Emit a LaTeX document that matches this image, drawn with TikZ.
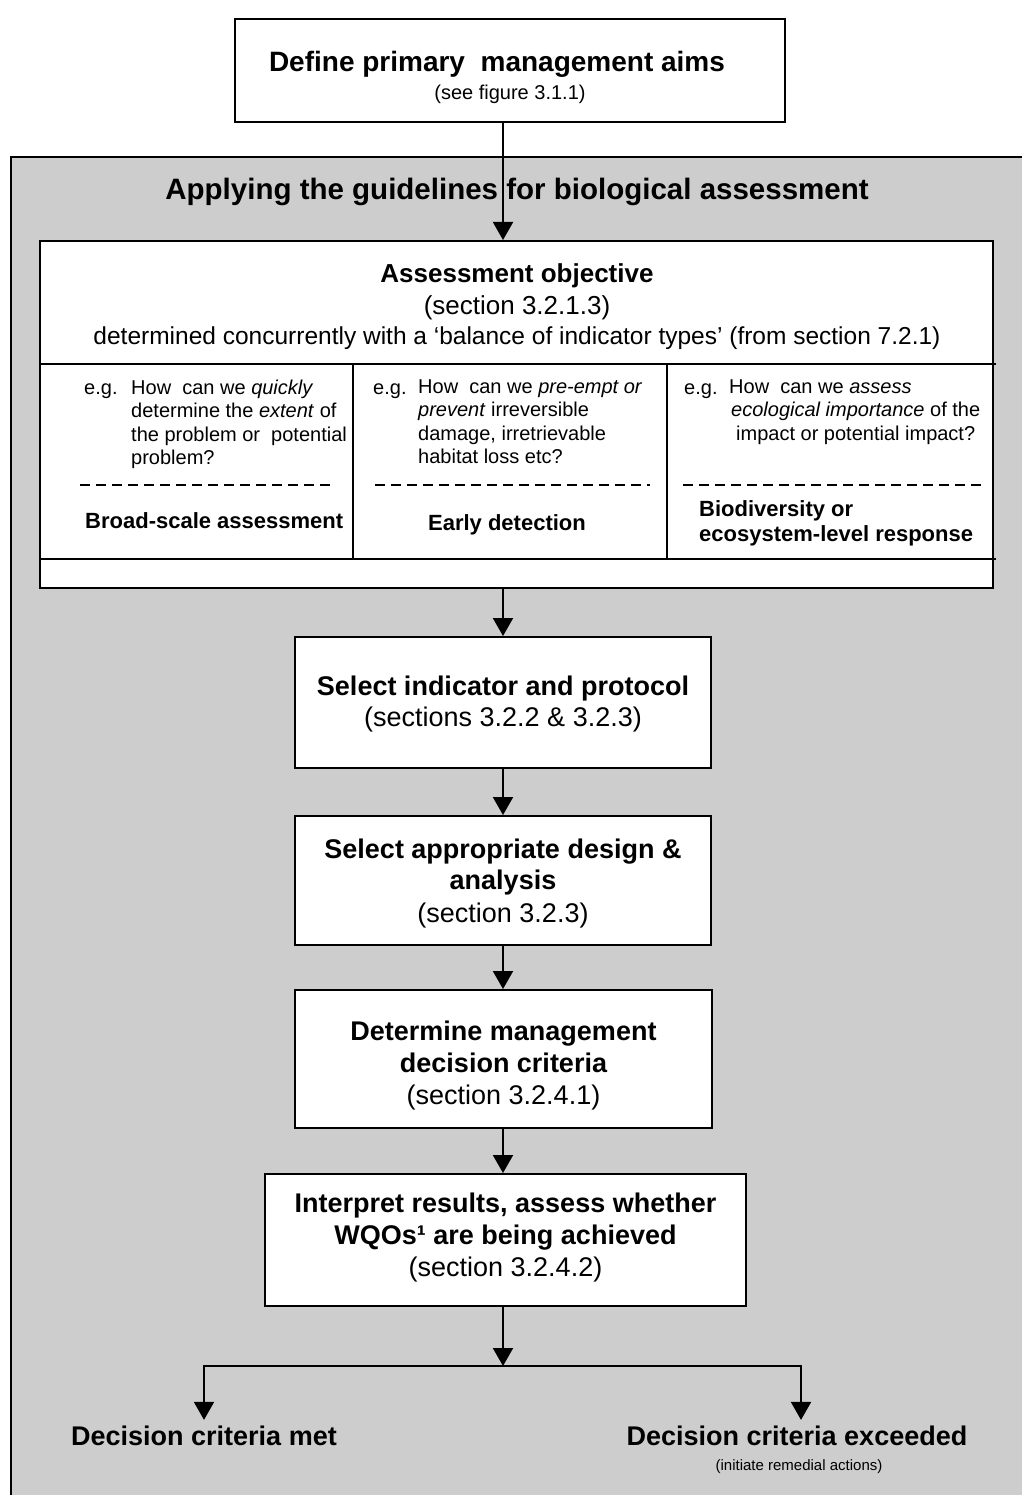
\documentclass[tikz,border=0pt]{standalone}
\usepackage{fontspec}
\setmainfont{Liberation Sans}
\usetikzlibrary{arrows.meta}
\definecolor{panelgray}{RGB}{205,205,205}
\newcommand{\fsz}[2]{\fontsize{#1}{#2}\selectfont}

\begin{document}
\begin{tikzpicture}[x=1pt,y=-1pt,
  box/.style={draw=black, line width=2pt, fill=white, inner sep=0pt},
  link/.style={draw=black, line width=2pt, -{Triangle[width=20pt,length=18pt]}},
  rule/.style={draw=black, line width=2pt},
  divider/.style={draw=black, line width=2pt, dash pattern=on 10pt off 6pt},
  qtext/.style={inner sep=0pt, align=left, font=\fsz{20}{23.5}},
  egtext/.style={inner sep=0pt, font=\fsz{20}{23.5}},
  lab/.style={inner sep=0pt, font=\bfseries\fsz{22}{25}},
  steptext/.style={inner sep=0pt, align=center, font=\fsz{27}{31.5}},
  outcome/.style={inner sep=0pt, font=\bfseries\fsz{27}{31}},
]
\useasboundingbox (0,0) rectangle (1022,1495);
\fill[white] (0,0) rectangle (1022,1495);

% grey panel, running off the right and bottom edges
\fill[panelgray] (11,157) rectangle (1022,1495);
\draw[rule] (11,1495) -- (11,157) -- (1022,157);

\coordinate (spine) at (503,0);

% management aims
\node[box, minimum width=550pt, minimum height=103pt] (aims) at (510,70.5) {};
\node[inner sep=0pt, align=center, font=\fsz{28}{28}] (aimstext) at (510,77)
  {{\bfseries Define primary\ \ management aims}\hspace*{26pt}\\{\fsz{20}{24}(see figure 3.1.1)}};

\node[inner sep=0pt, font=\bfseries\fsz{29.5}{34}] (paneltitle) at (517,192)
  {Applying the guidelines for biological assessment};

% assessment objective table
\node[box, minimum width=953pt, minimum height=347pt] (assess) at (516.5,414.5) {};
\node[inner sep=0pt, align=center, anchor=north, font=\fsz{26}{33}] (objective) at (517,263)
  {{\bfseries Assessment objective}\\[-0.5pt](section 3.2.1.3)\\[-3.5pt]{\fsz{24.5}{30}determined concurrently with a ‘balance of indicator types’ (from section 7.2.1)}};

\draw[rule] (40,364) -- (996,364);
\draw[rule] (40,559) -- (996,559);
\draw[rule] (353,364) -- (353,559);
\draw[rule] (667,364) -- (667,559);

\draw[divider] (80,485) -- (336,485);
\draw[divider] (375,485) -- (650,485);
\draw[divider] (683,485) -- (982,485);

\node[egtext, anchor=base west] (eg1) at (84,394) {e.g.};
\node[qtext, anchor=north west] (q1) at (131,379.5)
  {How\ \ can we \textit{quickly}\\determine the \textit{extent} of\\the problem or\ \ potential\\problem?};
\node[egtext, anchor=base west] (eg2) at (373,394) {e.g.};
\node[qtext, anchor=north west] (q2) at (418,379.5)
  {How\ \ can we \textit{pre-empt or}\\\textit{prevent} irreversible\\damage, irretrievable\\habitat loss etc?};
\node[egtext, anchor=base west] (eg3) at (684,394) {e.g.};
\node[qtext, anchor=north west] (q3) at (729,379.5)
  {How\ \ can we \textit{assess}\\\hspace*{2pt}\textit{ecological importance} of the\\\hspace*{7pt}impact or potential impact?};

\node[lab, anchor=base west] (l1) at (85,528) {Broad-scale assessment};
\node[lab, anchor=base] (l2) at (507,530) {Early detection};
\node[lab, anchor=north west, align=left] (l3) at (699,500) {Biodiversity or\\ecosystem-level response};

% assessment steps
\node[box, minimum width=416pt, minimum height=131pt] (indicator) at (503,702.5) {};
\node[steptext, font=\fsz{27}{31}] (indicatortext) at (503,704.5)
  {{\bfseries Select indicator and protocol}\\(sections 3.2.2 \& 3.2.3)};
\node[box, minimum width=416pt, minimum height=129pt] (design) at (503,880.5) {};
\node[steptext, font=\fsz{27}{31}] (designtext) at (503,884)
  {{\bfseries Select appropriate design \&}\\{\bfseries analysis}\\[2pt](section 3.2.3)};
\node[box, minimum width=417pt, minimum height=138pt] (criteria) at (503.5,1059) {};
\node[steptext, font=\fsz{27}{32}] (criteriatext) at (503.5,1065.5)
  {{\bfseries Determine management}\\{\bfseries decision criteria}\\(section 3.2.4.1)};
\node[box, minimum width=481pt, minimum height=132pt] (interpret) at (505.5,1240) {};
\node[steptext, font=\fsz{27}{32}] (interprettext) at (505.5,1237.5)
  {{\bfseries Interpret results, assess whether}\\{\bfseries WQOs¹ are being achieved}\\(section 3.2.4.2)};

% outcomes
\node[outcome] (met) at (204,1436) {Decision criteria met};
\node[outcome] (exceeded) at (797,1436) {Decision criteria exceeded};
\node[inner sep=0pt, font=\fsz{15}{18}] (remedial) at (799,1467) {(initiate remedial actions)};

% connectors
\draw[link] (aims.south -| spine) -- (assess.north -| spine);
\draw[link] (assess.south -| spine) -- (indicator.north -| spine);
\draw[link] (indicator.south -| spine) -- (design.north -| spine);
\draw[link] (design.south -| spine) -- (criteria.north -| spine);
\draw[link] (criteria.south -| spine) -- (interpret.north -| spine);
\coordinate (fork) at (503,1366);
\draw[link] (interpret.south -| spine) -- (fork);
\draw[link, shorten >=6pt] (fork) -| (met.north);
\draw[link, shorten >=6pt] (fork) -| ([xshift=4pt]exceeded.north);
\end{tikzpicture}
\end{document}
